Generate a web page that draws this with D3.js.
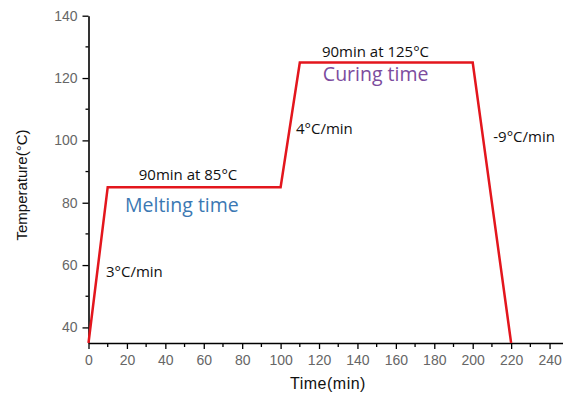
<!DOCTYPE html>
<html><head><meta charset="utf-8">
<script src="https://cdn.jsdelivr.net/npm/d3@7"></script>
<style>body{margin:0;background:#fff}svg{display:block}</style>
</head><body><svg id="c" width="563" height="394"></svg>
<script>
const times = [0, 10, 100, 110, 200, 220];
const temps = [35, 85, 85, 125, 125, 35];
const xTicks = [0,20,40,60,80,100,120,140,160,180,200,220,240];
const yTicks = [40,60,80,100,120,140];
const annoText = ["90min at 85°C","Melting time","90min at 125°C","Curing time","4°C/min","-9°C/min","3°C/min"];
const annoX = [51.8, 19, 121.5, 122, 108, 210.7, 9.1];
const annoY = [87.3, 77.1, 126.9, 119.1, 102, 99.6, 56.1];

const svg = d3.select("#c");
const x = d3.scaleLinear().domain([0,247]).range([88.5,563]);
const y = d3.scaleLinear().domain([35,140]).range([343,15.7]);

const xMinor = d3.range(10,247,20);
const yMinor = d3.range(50,140,20);

const gx = svg.append("g").attr("transform","translate(0,343)");
gx.call(d3.axisBottom(x).tickValues(xTicks).tickSize(6).tickSizeOuter(0).tickFormat(d3.format("d")));
gx.append("g").selectAll("line").data(xMinor).join("line")
  .attr("x1",d=>x(d)).attr("x2",d=>x(d)).attr("y1",0).attr("y2",4).attr("stroke","#000").attr("stroke-width",1.3);
const gy = svg.append("g").attr("transform","translate(88.5,0)");
gy.call(d3.axisLeft(y).tickValues(yTicks).tickSize(6).tickSizeOuter(0).tickFormat(d3.format("d")));
gy.append("g").selectAll("line").data(yMinor).join("line")
  .attr("y1",d=>y(d)).attr("y2",d=>y(d)).attr("x1",0).attr("x2",-3).attr("stroke","#000").attr("stroke-width",1.3);

[gx,gy].forEach(g=>{
  g.select(".domain").attr("stroke","#000").attr("stroke-width",1.6);
  g.selectAll(".tick line").attr("stroke","#000").attr("stroke-width",1.3);
  g.selectAll(".tick text").attr("fill","#666").attr("font-family","Liberation Sans, Arial").attr("font-size",14);
});
gx.selectAll(".tick text").attr("dy","0.95em");
gy.selectAll(".tick text").attr("x",-11);

const line = d3.line().x((d,i)=>x(times[i])).y((d,i)=>y(temps[i]));
svg.append("path").datum(times).attr("d",line).attr("fill","none")
  .attr("stroke","#e3161d").attr("stroke-width",2.5).attr("stroke-linejoin","miter");

const colors = ["#111","#3b78b3","#111","#7c4c9e","#111","#111","#111"];
const sizes = [15,19.5,15,19.5,15,15,15];
const anchors = ["middle","start","start","start","start","start","start"];
svg.append("g").selectAll("text").data(annoText).join("text")
  .attr("x",(d,i)=>x(annoX[i])).attr("y",(d,i)=>y(annoY[i]))
  .attr("text-anchor",(d,i)=>anchors[i])
  .attr("fill",(d,i)=>colors[i]).attr("font-size",(d,i)=>sizes[i])
  .attr("font-family","Open Sans, Noto Sans, sans-serif")
  .text(d=>d);

svg.append("text").attr("x",328).attr("y",389).attr("text-anchor","middle")
  .attr("font-family","Liberation Sans, Arial").attr("font-size",16).attr("letter-spacing",0.5).attr("fill","#111").text("Time(min)");
svg.append("text").attr("transform","translate(27,185) rotate(-90)").attr("text-anchor","middle")
  .attr("font-family","Liberation Sans, Arial").attr("font-size",15).attr("fill","#111").text("Temperature(°C)");
</script></body></html>
